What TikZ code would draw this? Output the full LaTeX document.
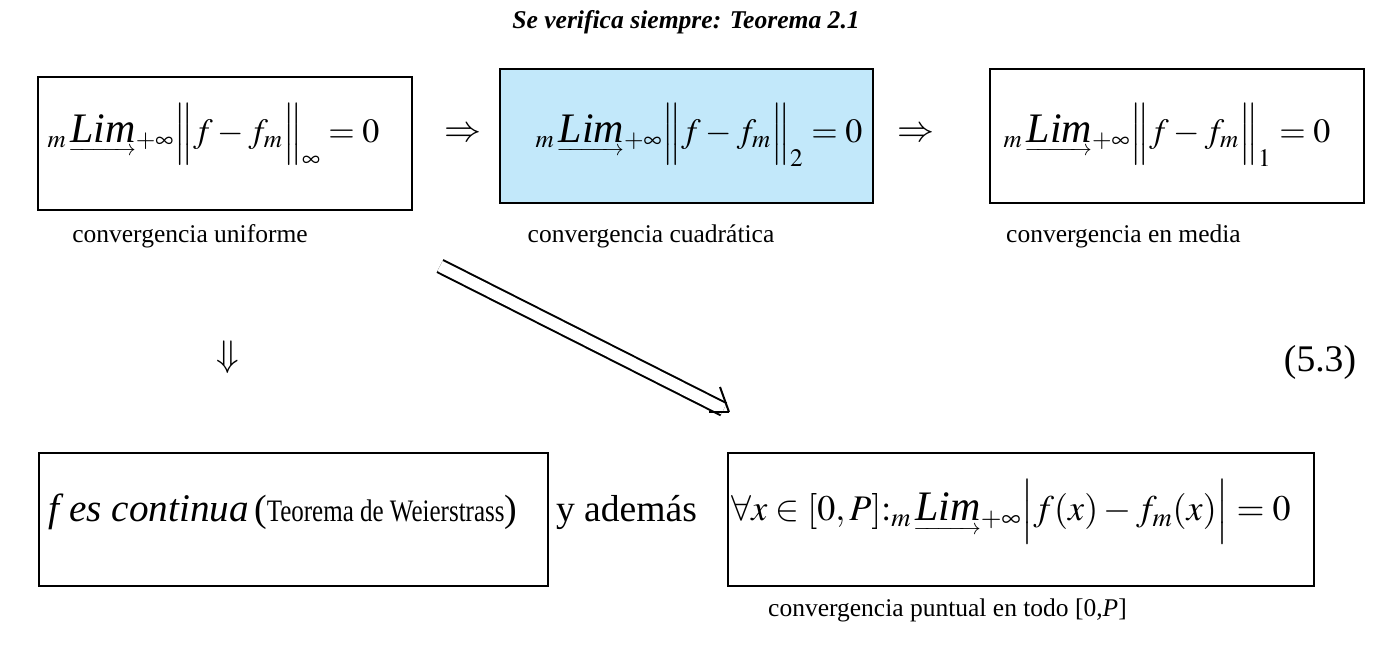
\documentclass[tikz,border=0pt]{standalone}
\usepackage{amsmath,amssymb}
\usepackage{mathptmx}
\usepackage[no-math]{fontspec}
\setmainfont{Liberation Serif}
\usetikzlibrary{calc,arrows.meta}
\definecolor{celeste}{RGB}{194,232,250}
\newsavebox{\cajalim}
\newcommand{\flechalim}{\vtop{\offinterlineskip\hbox{\usebox{\cajalim}}\kern2.5pt\hbox to \wd\cajalim{\fontsize{11}{11}\selectfont\kern-1pt\rightarrowfill}}}
\newcommand{\limm}{{}_{m}\,\flechalim{}_{+\infty}}

\begin{document}
\sbox{\cajalim}{\fontsize{21}{21}\selectfont\itshape Lim}
\begin{tikzpicture}[x=0.5pt,y=-0.5pt,
    caja/.style={draw, line width=1pt, inner sep=0pt},
    etiqueta/.style={font=\fontsize{12.75}{15}\selectfont, inner sep=0pt},
    formula/.style={font=\fontsize{17}{20}\selectfont, inner sep=0pt}]
            \useasboundingbox(0,0)rectangle(1393,662);
            % title
            \node[font=\fontsize{12.8}{15}\selectfont\bfseries\itshape, inner sep=0pt](titulo)at(686,22){Se verifica siempre: Teorema 2.1};
            % boxes of the first row
            \node[caja, minimum width=187pt, minimum height=66.5pt](uniforme)at(225,143.5){};
            \node[caja, fill=celeste, minimum width=186.5pt, minimum height=67pt](cuadratica)at(686.5,136){};
            \node[caja, minimum width=187pt, minimum height=67pt](media)at(1177,136){};
            % formulas
            \node[formula](normainf)at(213.5,135){$\limm\Bigl\|f-f_{m}\Bigr\|_{\infty}=0$};
            \node[formula](normados)at(699,135){$\limm\Bigl\|f-f_{m}\Bigr\|_{2}=0$};
            \node[formula](normauno)at(1167,135){$\limm\Bigl\|f-f_{m}\Bigr\|_{1}=0$};
            % implications
            \node[font=\fontsize{18.5}{20}\selectfont, inner sep=0pt](imp1)at(463,135){$\Rightarrow$};
            \node[font=\fontsize{18.5}{20}\selectfont, inner sep=0pt](imp2)at(916,135){$\Rightarrow$};
            \node[font=\fontsize{18.5}{20}\selectfont, inner sep=0pt](imp3)at(228,357){$\Downarrow$};
            % names
            \node[etiqueta](lab1)at(190,236){convergencia uniforme};
            \node[etiqueta](lab2)at(651,236){convergencia cuadrática};
            \node[etiqueta](lab3)at(1123.5,236){convergencia en media};
            % equation number
            \node[font=\fontsize{18.8}{20}\selectfont, inner sep=0pt](numero)at(1320,362){(5.3)};
            % boxes of the second row
            \node[caja, minimum width=254.5pt, minimum height=66.5pt](continua)at(293.5,519.5){};
            \node[caja, minimum width=293pt, minimum height=66.5pt](puntual)at(1021,519.5){};
            \node[inner sep=0pt](weier)at(283,512){{\fontsize{19.6}{22}\selectfont\itshape f es continua}
                {\fontsize{19}{22}\selectfont(}\scalebox{1}[1.25]{\fontsize{12.5}{14}\selectfont Teorema de Weierstrass}{\fontsize{19}{22}\selectfont)}};
            \node[font=\fontsize{18.8}{22}\selectfont, inner sep=0pt](ademas)at(626.5,512){y además};
            \node[font=\fontsize{18}{22}\selectfont, inner sep=0pt](formpunt)at(1011,512){$\forall x\in[0,P]{:}\limm\Bigl|f(x)-f_{m}(x)\Bigr|=0$};
            \node[etiqueta](lab4)at(947.5,610){convergencia puntual en todo [0,\textit{P}]};
            % diagonal arrow
            \coordinate(A)at(440,266);
            \coordinate(B)at(729,412);
            \path[draw, double, line width=1pt, double distance=5.7pt, shorten >=3pt](A)to(B);
            \path[draw, line width=1pt](B)to($(B)+(-20,0)$);
            \path[draw, line width=1pt](B)to($(B)+(-9,-25)$);
        \end{tikzpicture}
\end{document}
